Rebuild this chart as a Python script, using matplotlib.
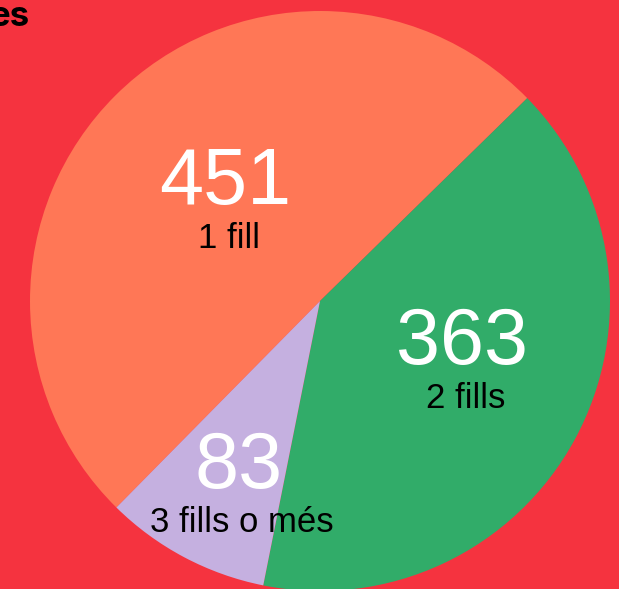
import matplotlib.pyplot as plt
import numpy as np

# data
values = [451, 363, 83]
labels = ['1 fill', '2 fills', '3 fills o més']
colors = ['#FF7756', '#31AC69', '#C5B0E0']
bg = '#F5333F'

W, H = 619, 589
cx, cy, R = 320, 301, 290   # pie centre / radius in pixels

fig = plt.figure(figsize=(W / 100, H / 100), dpi=100, facecolor=bg)
ax = fig.add_axes([0, 0, 1, 1])
ax.set_facecolor(bg)

wedges, _ = ax.pie(values, colors=colors, startangle=225.4, counterclock=False,
                   radius=1, wedgeprops=dict(linewidth=0))

# place the view so the pie sits (and is cropped) like the reference
ax.set_xlim(-cx / R, (W - cx) / R)
ax.set_ylim(-(H - cy) / R, cy / R)
ax.set_aspect('auto')
ax.axis('off')

# label placement: (distance from centre as fraction of radius, angle in degrees)
label_pos = [(0.52, 129.0), (0.51, -16.5), (0.64, -116.0)]
for val, lab, (r, a) in zip(values, labels, label_pos):
    x = r * np.cos(np.radians(a))
    y = r * np.sin(np.radians(a))
    ax.text(x, y, str(val), color='white', fontsize=57, family='Liberation Sans',
            ha='center', va='center')
    ax.text(x + 0.012, y - 0.19, lab, color='black', fontsize=25, family='Liberation Sans',
            ha='center', va='center')

fig.text(30 / W, 1 - 26 / H, 'es', color='black', fontsize=25, fontweight='bold',
         family='Inter', ha='right', va='baseline')

fig.savefig('out.png', dpi=100, facecolor=bg)
